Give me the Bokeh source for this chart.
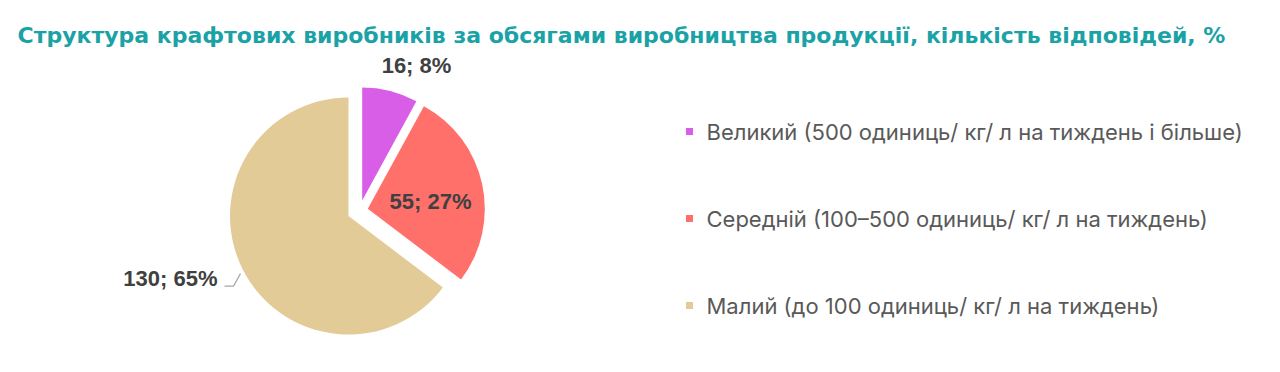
import math
from bokeh.plotting import figure
from bokeh.models import Range1d, ColumnDataSource
from bokeh.core.properties import value
from bokeh.embed import file_html
from bokeh.resources import INLINE

# ---------------- data ----------------
title = "Структура крафтових виробників за обсягами виробництва продукції, кількість відповідей, %"
categories = [
    "Великий (500  одиниць/ кг/ л на тиждень і більше)",
    "Середній (100–500 одиниць/ кг/ л на тиждень)",
    "Малий (до 100 одиниць/ кг/ л на тиждень)",
]
counts = [16, 55, 130]
percents = [8, 27, 65]
colors = ["#D85EE8", "#FF706B", "#E3CB98"]

# ---------------- layout ----------------
W, H = 1264, 356
p = figure(width=W, height=H, output_backend="svg", toolbar_location=None,
           x_range=Range1d(0, W), y_range=Range1d(0, H),
           x_axis_location=None, y_axis_location=None, min_border=0)
p.grid.visible = False
p.outline_line_color = None
p.background_fill_color = "white"
p.border_fill_color = "white"

def X(sx):
    return sx

def Y(sy):
    return H - sy

# title
p.text(x=[X(17)], y=[Y(34.5)], text=[title], text_font=value("DejaVu Sans"),
       text_font_style="bold", text_font_size="22px", text_color="#1AA2A6",
       text_baseline="alphabetic", text_align="left")

# pie geometry (styling): centre, per-slice explode offsets (px) and radii
cx, cy = X(348), Y(215.5)
explode_off = [(13.7, -15.5), (19.3, -7.2), (0.0, 0.0)]
radii = [113, 117, 118.5]

total = sum(counts)
start = 90.0
xs, ys, sa, ea = [], [], [], []
for i, c in enumerate(counts):
    sweep = 360.0 * c / total
    end = start - sweep
    xs.append(cx + explode_off[i][0])
    ys.append(cy - explode_off[i][1])
    sa.append(math.radians(end))
    ea.append(math.radians(start))
    start = end

src = ColumnDataSource(dict(x=xs, y=ys, r=radii, sa=sa, ea=ea, color=colors))
p.wedge(x="x", y="y", radius="r", start_angle="sa", end_angle="ea",
        fill_color="color", line_color=None, source=src)

# data labels: offsets from pie centre (px, screen direction) and alignment
labels = [f"{c}; {pc}%" for c, pc in zip(counts, percents)]
label_off = [(68, -151, "center"), (82, -14.5, "center"), (-131, 62.5, "right")]
for i, (dx, dy, al) in enumerate(label_off):
    p.text(x=[cx + dx], y=[cy - dy], text=[labels[i]], text_font=value("Liberation Sans"),
           text_font_style="bold", text_font_size="22px", text_color="#404040",
           text_baseline="middle", text_align=al)

# leader line for the large-slice label
lx, ly = cx + label_off[2][0], cy - label_off[2][1]
p.line(x=[lx + 7, lx + 16, lx + 23], y=[ly - 7.7, ly - 7.7, ly + 5],
       line_color="#A6A6A6", line_width=1.3)

# legend
leg_y = [131, 218, 305]
p.scatter(x=[X(689)] * 3, y=[Y(v) for v in leg_y], marker="square", size=7,
          fill_color=colors, line_color=None)
p.text(x=[X(706)] * 3, y=[Y(v) for v in leg_y], text=categories,
       text_font=value("Inter"), text_font_size="22px", text_color="#595959",
       text_baseline="middle", text_align="left")

open("out.html", "w").write(file_html(p, INLINE))
